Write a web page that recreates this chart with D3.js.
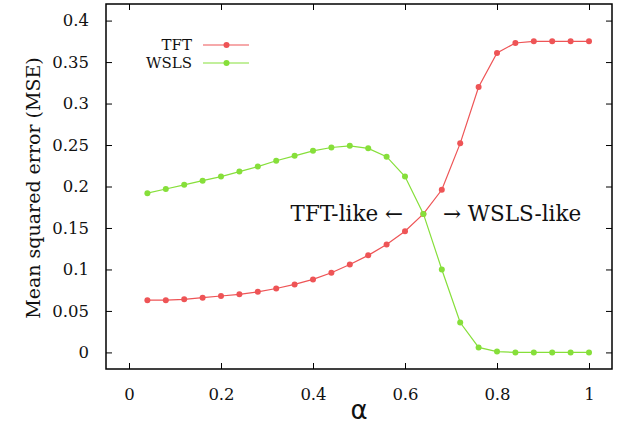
<!DOCTYPE html>
<html>
<head>
 <meta charset="utf-8"/>
 <script src="https://d3js.org/d3.v7.min.js"></script>
 <style>
  body { margin: 0; background: #fff; }
 </style>
</head>
<body>
 <div id="graph"></div>
 <script type="text/javascript">
   // values
   var alphas = [0.04, 0.08, 0.12, 0.16, 0.20, 0.24, 0.28, 0.32, 0.36, 0.40, 0.44, 0.48, 0.52,
                 0.56, 0.60, 0.64, 0.68, 0.72, 0.76, 0.80, 0.84, 0.88, 0.92, 0.96, 1.00];
   var tftMSE = [0.063, 0.063, 0.064, 0.066, 0.068, 0.070, 0.073, 0.077, 0.082, 0.088, 0.096, 0.106, 0.117,
                 0.130, 0.146, 0.167, 0.196, 0.252, 0.320, 0.361, 0.373, 0.375, 0.375, 0.375, 0.375];
   var wslsMSE = [0.192, 0.197, 0.202, 0.207, 0.212, 0.218, 0.224, 0.231, 0.237, 0.243, 0.247, 0.249, 0.246,
                  0.236, 0.212, 0.167, 0.100, 0.036, 0.006, 0.001, 0.000, 0.000, 0.000, 0.000, 0.000];
   var xTicks = [0, 0.2, 0.4, 0.6, 0.8, 1];
   var yTicks = [0, 0.05, 0.1, 0.15, 0.2, 0.25, 0.3, 0.35, 0.4];
   var seriesNames = ["TFT", "WSLS"];
   var seriesColors = ["#ee5456", "#86df3a"];

   var serif = "DejaVu Serif, serif";
   var width = 618, height = 432;
   var margin = {left: 106, top: 4, right: 6, bottom: 63};
   var svg = d3.select("#graph").append("svg")
               .attr("width", width).attr("height", height);

   var xScale = d3.scaleLinear().domain([-0.05, 1.05]).range([margin.left, width - margin.right]);
   var yScale = d3.scaleLinear().domain([-0.02, 0.42]).range([height - margin.bottom, margin.top]);

   var fmt = function(d) { return d3.format("~g")(d); };
   // axes with inward ticks, mirrored on top and right
   var tick = 6;
   function styleAxis(g) {
     g.attr("font-family", null).attr("font-size", null);
     g.select(".domain").remove();
     g.selectAll("line").attr("stroke", "#000").attr("stroke-width", 1);
     g.selectAll("text").attr("font-size", 16.5).attr("font-family", serif).attr("fill", "#111");
   }
   svg.append("g")
      .attr("transform", "translate(0," + (height - margin.bottom) + ")")
      .call(d3.axisBottom(xScale).tickValues(xTicks).tickFormat(fmt).tickSizeInner(-tick).tickPadding(19))
      .call(styleAxis);
   svg.append("g")
      .attr("transform", "translate(0," + margin.top + ")")
      .call(d3.axisTop(xScale).tickValues(xTicks).tickFormat("").tickSizeInner(-tick))
      .call(styleAxis);
   svg.append("g")
      .attr("transform", "translate(" + margin.left + ",0)")
      .call(d3.axisLeft(yScale).tickValues(yTicks).tickFormat(fmt).tickSizeInner(-tick).tickPadding(17))
      .call(styleAxis);
   svg.append("g")
      .attr("transform", "translate(" + (width - margin.right) + ",0)")
      .call(d3.axisRight(yScale).tickValues(yTicks).tickFormat("").tickSizeInner(-tick))
      .call(styleAxis);

   // frame
   svg.append("rect")
      .attr("x", margin.left).attr("y", margin.top)
      .attr("width", width - margin.left - margin.right)
      .attr("height", height - margin.top - margin.bottom)
      .attr("fill", "none").attr("stroke", "#000").attr("stroke-width", 1.5);

   // series
   var line = d3.line().x(function(d) { return xScale(d[0]); }).y(function(d) { return yScale(d[1]); });
   [tftMSE, wslsMSE].forEach(function(vals, k) {
     var pts = alphas.map(function(a, i) { return [a, vals[i]]; });
     svg.append("path").datum(pts).attr("d", line)
        .attr("fill", "none").attr("stroke", seriesColors[k]).attr("stroke-width", 1.2);
     svg.append("g").selectAll("circle").data(pts).enter().append("circle")
        .attr("cx", function(d) { return xScale(d[0]); })
        .attr("cy", function(d) { return yScale(d[1]); })
        .attr("r", 3).attr("fill", seriesColors[k]);
   });

   // legend
   seriesNames.forEach(function(name, k) {
     var ly = 45 + k * 18;
     svg.append("text").attr("x", 192).attr("y", ly).attr("dy", "0.35em")
        .attr("text-anchor", "end").attr("font-size", 15).attr("font-family", serif).attr("fill", "#111").text(name);
     svg.append("line").attr("x1", 203).attr("x2", 249).attr("y1", ly).attr("y2", ly)
        .attr("stroke", seriesColors[k]).attr("stroke-width", 1.2);
     svg.append("circle").attr("cx", 226.5).attr("cy", ly).attr("r", 3).attr("fill", seriesColors[k]);
   });

   // annotations
   svg.append("text").attr("x", 403).attr("y", 213).attr("dy", "0.35em")
      .attr("text-anchor", "end").attr("font-size", 21.5).attr("font-family", serif).attr("fill", "#111")
      .text("TFT-like \u2190");
   svg.append("text").attr("x", 443).attr("y", 213).attr("dy", "0.35em")
      .attr("text-anchor", "start").attr("font-size", 21.5).attr("font-family", serif).attr("fill", "#111")
      .text("\u2192 WSLS-like");

   // axis titles
   svg.append("text").attr("transform", "translate(33,188) rotate(-90)")
      .attr("text-anchor", "middle").attr("dy", "0.35em")
      .attr("font-size", 19).attr("font-family", serif).attr("fill", "#111").text("Mean squared error (MSE)");

   svg.append("text").attr("x", 359).attr("y", 410).attr("dy", "0.35em")
      .attr("text-anchor", "middle").attr("fill", "#111")
      .attr("font-family", "DejaVu Sans, sans-serif").attr("font-size", 26).text("\u03b1");
 </script>
</body>
</html>
